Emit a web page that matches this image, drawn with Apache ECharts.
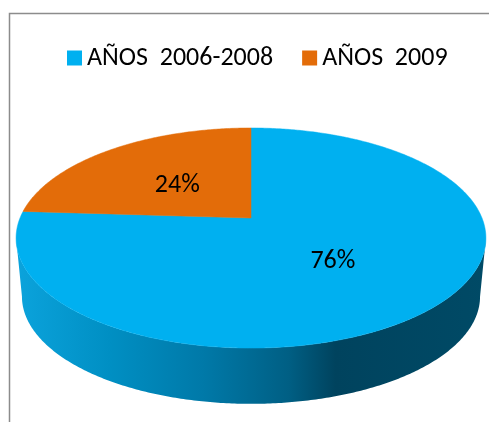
<!DOCTYPE html>
<html>
<head>
<meta charset="utf-8">
<script src="https://cdn.jsdelivr.net/npm/echarts@6/dist/echarts.min.js"></script>
<style>
html,body{margin:0;padding:0;background:#fff;}
#chart{width:489px;height:422px;}
</style>
</head>
<body>
<div id="chart"></div>
<script>
const categories = ['AÑOS  2006-2008', 'AÑOS  2009'];
const values = [76, 24];
const labels = ['76%', '24%'];
const colors = ['#00B0F0', '#E36C09'];

const FONT = 'Carlito, Lato, sans-serif';
const total = values.reduce((a, b) => a + b, 0);

// 3D-perspective pie geometry
const CX = 251, CY = 218, CYB = 277, A = 231, B = 106.4, K = 0.182, SHRINK = 0.975;
function proj(t, bottom, f) {
  f = f == null ? 1 : f;
  const u = Math.cos(t) * f, v = Math.sin(t) * f;
  const s = 1 / (1 + K * v);
  if (!bottom) return [CX + A * u * s, CY - B * v * s];
  return [CX + A * SHRINK * u * s, CYB - B * SHRINK * v * s];
}
function arc(a0, a1, bottom) {
  const pts = [];
  const n = Math.max(2, Math.ceil(Math.abs(a1 - a0) / 0.01));
  for (let i = 0; i <= n; i++) pts.push(proj(a0 + (a1 - a0) * i / n, bottom));
  return pts;
}
const FRONT0 = -Math.PI + Math.asin(K), FRONT1 = -Math.asin(K);

function renderSlice(idx) {
  return function (params, api) {
    const v = api.value(0);
    let before = 0;
    for (let i = 0; i < idx; i++) before += values[i];
    const a0 = Math.PI / 2 - 2 * Math.PI * before / total;
    const a1 = a0 - 2 * Math.PI * v / total; // clockwise
    const children = [];
    for (const shift of [-2 * Math.PI, 0, 2 * Math.PI]) {
      const lo = Math.max(a1 + shift, FRONT0), hi = Math.min(a0 + shift, FRONT1);
      if (hi > lo) {
        const top = arc(hi, lo, false);
        const bot = arc(lo, hi, true);
        children.push({
          type: 'polygon',
          shape: { points: top.concat(bot) },
          style: {
            fill: {
              type: 'linear', x: 0, y: 0, x2: 1, y2: 0,
              colorStops: [
                { offset: 0, color: '#0ba3dc' },
                { offset: 0.2, color: '#008fc3' },
                { offset: 0.4, color: '#0079a8' },
                { offset: 0.58, color: '#005f84' },
                { offset: 0.68, color: '#00435e' },
                { offset: 1, color: '#004a66' }
              ]
            }
          }
        });
      }
    }
    const pts = [[CX, CY]].concat(arc(a0, a1, false));
    children.push({
      type: 'polygon',
      shape: { points: pts },
      style: { fill: colors[idx], stroke: colors[idx], lineWidth: 0.5 }
    });
    const mid = (a0 + a1) / 2;
    const lp = proj(mid, false, 0.49);
    children.push({
      type: 'text',
      x: lp[0] - 1, y: lp[1] + 3,
      style: {
        text: labels[idx], fill: '#000', font: '26px ' + FONT,
        align: 'center', verticalAlign: 'middle'
      }
    });
    return { type: 'group', children: children };
  };
}

const chart = echarts.init(document.getElementById('chart'), null, { renderer: 'canvas' });
chart.setOption({
  animation: false,
  backgroundColor: '#fff',
  graphic: [{
    type: 'rect', silent: true, z: -10,
    shape: { x: 9.5, y: 13.5, width: 700, height: 700 },
    style: { fill: 'none', stroke: '#8c8c8c', lineWidth: 1.5 }
  }],
  legend: {
    left: 62, top: 40,
    icon: 'rect', itemWidth: 15, itemHeight: 15, itemGap: 29,
    textStyle: { fontSize: 26, fontFamily: FONT, color: '#000' },
    data: categories
  },
  series: categories.map((name, i) => ({
    type: 'custom',
    name: name,
    coordinateSystem: 'none',
    itemStyle: { color: colors[i] },
    data: [[values[i]]],
    renderItem: renderSlice(i)
  }))
});
</script>
</body>
</html>
